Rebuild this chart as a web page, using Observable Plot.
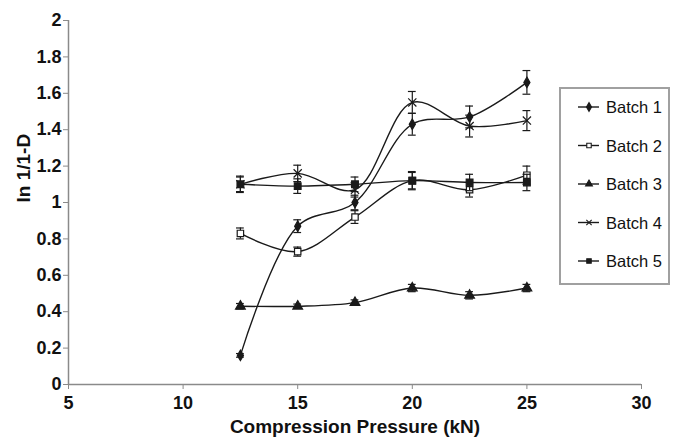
<!DOCTYPE html>
<html><head><meta charset="utf-8">
<script src="https://cdn.jsdelivr.net/npm/d3@7"></script>
<script src="https://cdn.jsdelivr.net/npm/@observablehq/plot@0.6"></script>
<style>
body{margin:0;background:#fff;}
#wrap{position:relative;width:679px;height:443px;font-family:"Liberation Sans",Arial,sans-serif;}
#legend{position:absolute;left:559px;top:87px;width:107px;height:194px;border:2px solid #a0a0a0;background:#fff;}
#legend svg{position:absolute;left:0;top:0;}
</style></head>
<body><div id="wrap"><div id="chart"></div><div id="legend"></div></div>
<script>
const pressure = [12.5, 15, 17.5, 20, 22.5, 25];
const batchNames = ["Batch 1", "Batch 2", "Batch 3", "Batch 4", "Batch 5"];
const batch1 = [0.16, 0.87, 1.00, 1.43, 1.47, 1.66];
const batch1Err = [0.01, 0.035, 0.04, 0.06, 0.06, 0.065];
const batch2 = [0.83, 0.73, 0.92, 1.12, 1.07, 1.15];
const batch2Err = [0.03, 0.025, 0.035, 0.05, 0.04, 0.05];
const batch3 = [0.43, 0.43, 0.45, 0.53, 0.49, 0.53];
const batch3Err = [0.015, 0.012, 0.015, 0.02, 0.02, 0.02];
const batch4 = [1.10, 1.16, 1.07, 1.55, 1.42, 1.45];
const batch4Err = [0.04, 0.045, 0.04, 0.06, 0.06, 0.055];
const batch5 = [1.10, 1.09, 1.10, 1.12, 1.11, 1.11];
const batch5Err = [0.045, 0.04, 0.04, 0.045, 0.045, 0.045];
const xTicks = [5, 10, 15, 20, 25, 30];
const yTicks = [0, 0.2, 0.4, 0.6, 0.8, 1, 1.2, 1.4, 1.6, 1.8, 2];
const xTitle = "Compression Pressure (kN)";
const yTitle = "ln 1/1-D";

const ink = "#1a1a1a";
const series = [
  {name: batchNames[0], values: batch1, err: batch1Err, symbol: "diamond", fill: ink, stroke: ink, r: 3.2},
  {name: batchNames[1], values: batch2, err: batch2Err, symbol: "square", fill: "white", stroke: ink, r: 3.6},
  {name: batchNames[2], values: batch3, err: batch3Err, symbol: "triangle", fill: ink, stroke: ink, r: 3.6},
  {name: batchNames[3], values: batch4, err: batch4Err, symbol: "times", fill: "none", stroke: ink, r: 3.8},
  {name: batchNames[4], values: batch5, err: batch5Err, symbol: "square", fill: ink, stroke: ink, r: 3.8}
];
const rowsOf = s => pressure.map((p, i) => ({batch: s.name, x: p, y: s.values[i], e: s.err[i]}));
const cap = 0.17;

const marks = [
  Plot.ruleY([0], {stroke: "#8a8a8a", strokeWidth: 1.5}),
  Plot.ruleX([5], {stroke: "#8a8a8a", strokeWidth: 1.5}),
  Plot.axisX({ticks: xTicks, tickSize: 5, tickPadding: 7, stroke: "#8a8a8a", fill: "#111", label: null, tickFormat: d => String(d)}),
  Plot.axisY({ticks: yTicks, tickSize: 5, tickPadding: 2, stroke: "#8a8a8a", fill: "#111", label: null, tickFormat: d => String(+d.toFixed(1))}),
  Plot.text([xTitle], {frameAnchor: "bottom", dy: 48, fontSize: 19, fontWeight: "bold", fill: "#111"}),
  Plot.text([yTitle], {frameAnchor: "left", dx: -45, rotate: -90, fontSize: 19, fontWeight: "bold", fill: "#111"})
];
for (const s of series) {
  const rows = rowsOf(s);
  marks.push(Plot.line(rows, {x: "x", y: "y", curve: "catmull-rom", stroke: ink, strokeWidth: 1.4}));
}
for (const s of series) {
  const rows = rowsOf(s);
  marks.push(
    Plot.ruleX(rows, {x: "x", y1: d => d.y - d.e, y2: d => d.y + d.e, stroke: ink, strokeWidth: 1.2}),
    Plot.ruleY(rows, {y: d => d.y + d.e, x1: d => d.x - cap, x2: d => d.x + cap, stroke: ink, strokeWidth: 1.2}),
    Plot.ruleY(rows, {y: d => d.y - d.e, x1: d => d.x - cap, x2: d => d.x + cap, stroke: ink, strokeWidth: 1.2}),
    Plot.dot(rows, {x: "x", y: "y", symbol: s.symbol, r: s.r, fill: s.fill, stroke: s.stroke, strokeWidth: 1.2})
  );
}

const chart = Plot.plot({
  width: 679, height: 443,
  marginLeft: 68, marginRight: 38, marginTop: 20, marginBottom: 59,
  x: {domain: [5, 30]},
  y: {domain: [0, 2]},
  style: {fontFamily: "Liberation Sans, Arial, sans-serif", fontSize: "18px", fontWeight: "bold", background: "#fff", overflow: "visible"},
  marks
});
document.getElementById("chart").appendChild(chart);

// legend
const leg = d3.select("#legend").append("svg").attr("width", 110).attr("height", 195);
const symMap = {diamond: d3.symbolDiamond, square: d3.symbolSquare, triangle: d3.symbolTriangle, times: d3.symbolTimes};
series.forEach((s, i) => {
  const g = leg.append("g").attr("transform", `translate(0,${18 + i * 38.5})`);
  g.append("line").attr("x1", 17).attr("x2", 38).attr("stroke", ink).attr("stroke-width", 1.4);
  g.append("path").attr("transform", "translate(28,0)")
    .attr("d", d3.symbol(symMap[s.symbol], s.symbol === "diamond" ? 22 : 20)())
    .attr("fill", s.fill).attr("stroke", s.stroke).attr("stroke-width", 1.1);
  g.append("text").attr("x", 45).attr("y", 6).attr("font-size", 16.5).attr("fill", "#111")
    .attr("font-family", "Liberation Sans, Arial, sans-serif").text(s.name);
});
</script>
</body></html>
